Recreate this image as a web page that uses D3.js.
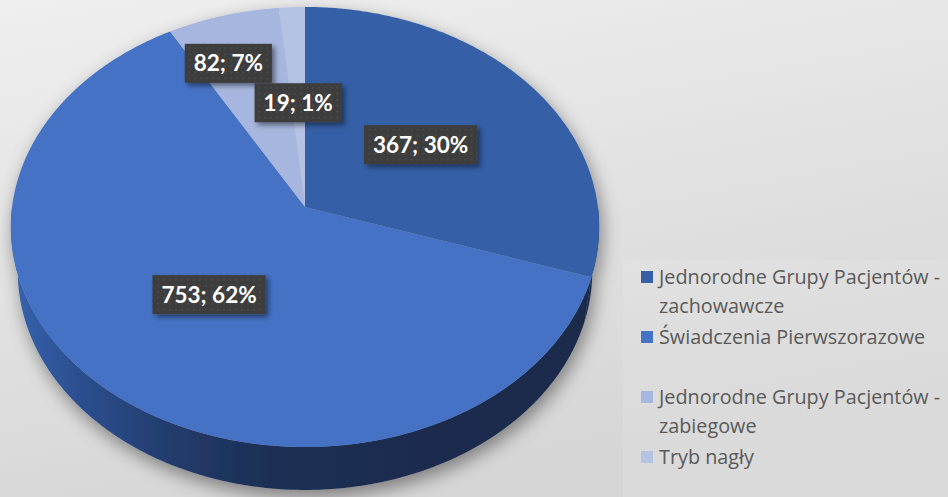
<!DOCTYPE html>
<html>
<head>
<meta charset="utf-8">
<script src="https://cdn.jsdelivr.net/npm/d3@7"></script>
<style>
  html, body { margin: 0; padding: 0; overflow: hidden; }
  body { width: 948px; height: 497px; }
</style>
</head>
<body>
<div id="chart"></div>
<script>
const width = 948;
const height = 497;

// data
const categories = [
    "Jednorodne Grupy Pacjentów - zachowawcze",
    "Świadczenia Pierwszorazowe",
    "Jednorodne Grupy Pacjentów - zabiegowe",
    "Tryb nagły"
];
const values = [367, 753, 82, 19];
const percentLabels = ["30%", "62%", "7%", "1%"];
const legendLines = [
    ["Jednorodne Grupy Pacjentów -", "zachowawcze"],
    ["Świadczenia Pierwszorazowe"],
    ["Jednorodne Grupy Pacjentów -", "zabiegowe"],
    ["Tryb nagły"]
];
const colors = ["#365fa6", "#4472c4", "#a7b6de", "#b4c2e4"];

// 3D view of the disc (radius 1), perspective projection
const cx = 305, cy = 207;
const focal = 2150, dist = 7.34;
const sinA = 0.745, cosA = 0.667;
const thick = 0.234;

function proj(theta, r, up) {
    const x = r * Math.sin(theta);
    const z = r * Math.cos(theta);
    const v = z * sinA + up * cosA;
    const w = dist + z * cosA - up * sinA;
    return [cx + focal * x / w, cy - focal * v / w];
}

const svg = d3.select("#chart").append("svg")
    .attr("width", width)
    .attr("height", height);

const defs = svg.append("defs");

const bg = defs.append("linearGradient").attr("id", "bg")
    .attr("x1", 0).attr("y1", 0).attr("x2", 0.35).attr("y2", 1);
bg.append("stop").attr("offset", 0).attr("stop-color", "#efefef");
bg.append("stop").attr("offset", 1).attr("stop-color", "#d6d6d6");

const wallGrad = defs.append("linearGradient").attr("id", "wall")
    .attr("gradientUnits", "userSpaceOnUse")
    .attr("x1", 12).attr("y1", 0).attr("x2", 598).attr("y2", 0);
[[0, "#3562ad"], [0.1, "#2d5193"], [0.27, "#223c6c"], [0.45, "#1c2e52"], [1, "#1a2a4a"]]
    .forEach(s => wallGrad.append("stop").attr("offset", s[0]).attr("stop-color", s[1]));

const pieShadow = defs.append("filter").attr("id", "pieShadow")
    .attr("x", "-20%").attr("y", "-20%").attr("width", "140%").attr("height", "140%");
pieShadow.append("feDropShadow")
    .attr("dx", 3).attr("dy", 7).attr("stdDeviation", 9)
    .attr("flood-color", "#000").attr("flood-opacity", 0.42);

const boxShadow = defs.append("filter").attr("id", "boxShadow")
    .attr("x", "-20%").attr("y", "-30%").attr("width", "150%").attr("height", "170%");
boxShadow.append("feDropShadow")
    .attr("dx", 3).attr("dy", 3).attr("stdDeviation", 2.5)
    .attr("flood-color", "#000").attr("flood-opacity", 0.45);

const dots = defs.append("pattern").attr("id", "dots")
    .attr("patternUnits", "userSpaceOnUse").attr("width", 6).attr("height", 6);
dots.append("rect").attr("width", 6).attr("height", 6).attr("fill", "#3d3d3d");
dots.append("circle").attr("cx", 3).attr("cy", 3).attr("r", 0.8).attr("fill", "#565656");

svg.append("rect").attr("width", width).attr("height", height).attr("fill", "url(#bg)");

// legend panel
svg.append("rect")
    .attr("x", 623).attr("y", 260).attr("width", width - 623).attr("height", height - 260)
    .attr("fill", "#ffffff").attr("opacity", 0.1);

const pie = d3.pie().sort(null).value(d => d);
const arcs = pie(values);

function rimPoints(a0, a1, up) {
    const n = Math.max(2, Math.ceil((a1 - a0) / 0.01));
    return d3.range(n + 1).map(i => proj(a0 + (a1 - a0) * i / n, 1, up));
}

const pieG = svg.append("g").attr("filter", "url(#pieShadow)");

// outer walls (front half only)
arcs.forEach(d => {
    const a = Math.max(d.startAngle, Math.PI / 2);
    const b = Math.min(d.endAngle, Math.PI * 1.5);
    if (a >= b) return;
    const pts = rimPoints(a, b, 0).concat(rimPoints(a, b, -thick).reverse());
    pieG.append("path")
        .attr("d", d3.line()(pts) + "Z")
        .attr("fill", "url(#wall)");
});

// top faces
pieG.selectAll("path.top")
    .data(arcs)
    .join("path")
    .attr("class", "top")
    .attr("d", d => d3.line()([proj(0, 0, 0)].concat(rimPoints(d.startAngle, d.endAngle, 0))) + "Z")
    .attr("fill", (d, i) => colors[i]);

// data labels
const labelNudge = [[0, 0], [0, 0], [-34, -44], [0, 0]];
const labels = svg.append("g").selectAll("g")
    .data(arcs)
    .join("g")
    .attr("transform", (d, i) => {
        const p = proj((d.startAngle + d.endAngle) / 2, 0.5, 0);
        return `translate(${p[0] + labelNudge[i][0]},${p[1] + labelNudge[i][1]})`;
    });

labels.append("rect")
    .attr("fill", "url(#dots)")
    .attr("filter", "url(#boxShadow)");

const labelText = labels.append("text")
    .attr("text-anchor", "middle")
    .attr("y", 8)
    .style("font-family", "Lato, 'Open Sans', sans-serif")
    .style("font-weight", "bold")
    .style("font-size", "22.5px")
    .style("fill", "#ffffff")
    .text((d, i) => `${values[i]}; ${percentLabels[i]}`);

labelText.each(function () {
    const w = this.getComputedTextLength();
    d3.select(this.parentNode).select("rect")
        .attr("x", -w / 2 - 9).attr("y", -19.5)
        .attr("width", w + 18).attr("height", 39);
});

// legend
const legend = svg.append("g").selectAll("g")
    .data(categories)
    .join("g")
    .attr("transform", (d, i) => `translate(641,${284 + i * 60})`);

legend.append("rect")
    .attr("x", 0).attr("y", -13)
    .attr("width", 12).attr("height", 12)
    .attr("fill", (d, i) => colors[i]);

legend.append("text")
    .attr("x", 18)
    .style("font-family", "'Open Sans', sans-serif")
    .style("font-size", "19.8px")
    .style("fill", "#595959")
    .selectAll("tspan")
    .data((d, i) => legendLines[i])
    .join("tspan")
    .attr("x", 18)
    .attr("dy", (d, j) => j === 0 ? 0 : 29)
    .text(d => d);
</script>
</body>
</html>
